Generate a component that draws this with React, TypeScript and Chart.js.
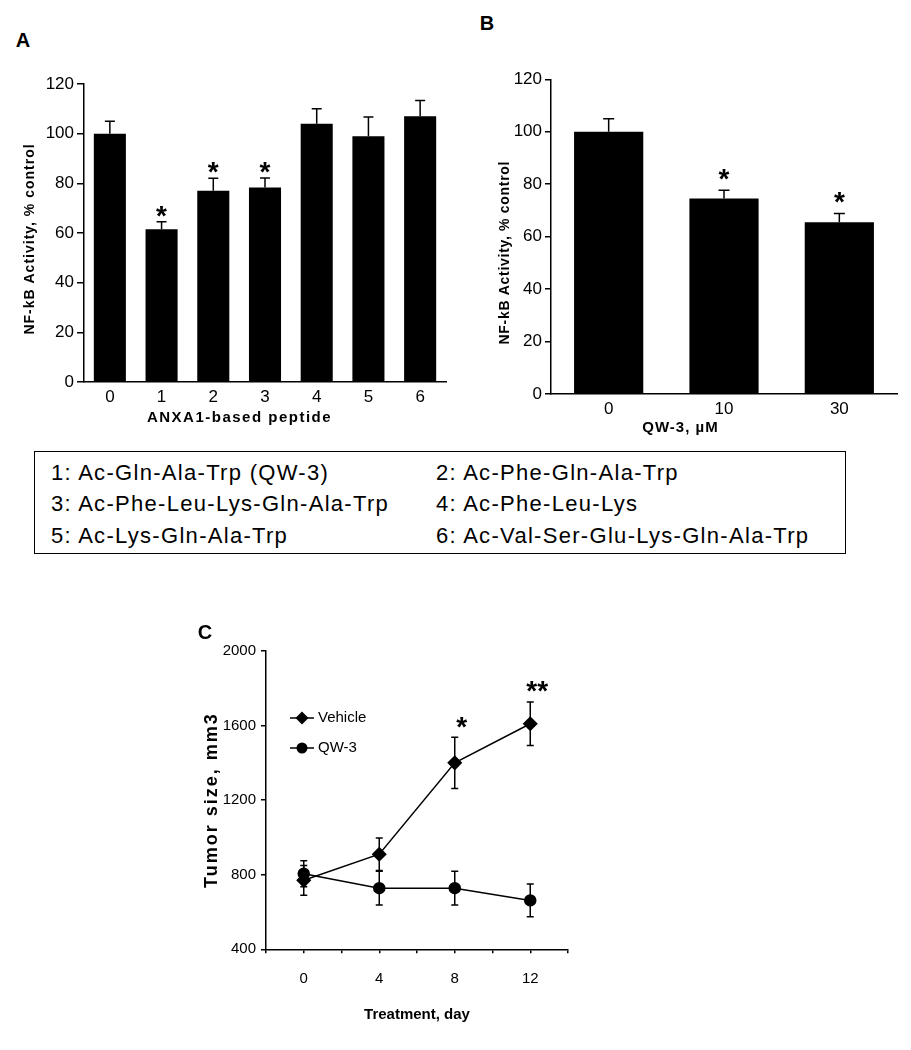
import React, { useEffect, useRef } from 'react';
import { Chart, registerables } from 'chart.js';

Chart.register(...registerables);

const FONT = "'Liberation Sans', Arial, Helvetica, sans-serif";
Chart.defaults.font.family = FONT;
Chart.defaults.color = '#000';

// ---------- Panel A: ANXA1-based peptides ----------
const peptideLabels = ['0', '1', '2', '3', '4', '5', '6'];
const peptideActivity = [100, 61.5, 77, 78.3, 104, 99, 107];
const peptideError = [5, 3, 5, 3.8, 6, 7.7, 6.4];
const peptideStars = ['', '*', '*', '*', '', '', ''];

// ---------- Panel B: QW-3 dose ----------
const doseLabels = ['0', '10', '30'];
const doseActivity = [100, 74.5, 65.5];
const doseError = [5, 3.2, 3.3];
const doseStars = ['', '*', '*'];

// ---------- Panel C: tumor growth ----------
const days = [0, 4, 8, 12];
const vehicleSize = [770, 910, 1400, 1610];
const vehicleError = [80, 87, 138, 117];
const qw3Size = [805, 728, 728, 662];
const qw3Error = [70, 90, 90, 88];
const daySignificance = ['', '', '*', '**'];
const dayTickLabels = [0, 4, 8, 12];

// ---------- peptide key ----------
const peptideKey = [
  '1: Ac-Gln-Ala-Trp (QW-3)',
  '2: Ac-Phe-Gln-Ala-Trp',
  '3: Ac-Phe-Leu-Lys-Gln-Ala-Trp',
  '4: Ac-Phe-Leu-Lys',
  '5: Ac-Lys-Gln-Ala-Trp',
  '6: Ac-Val-Ser-Glu-Lys-Gln-Ala-Trp',
];

function valueOf(d: any): number {
  return typeof d === 'number' ? d : d.y;
}

function fitScale(size: { width?: number; height?: number }, title?: { dx: number; dy: number; spacing: number }) {
  return (scale: any) => {
    if (size.width !== undefined) scale.width = size.width;
    if (size.height !== undefined) scale.height = size.height;
    if (title && !scale.__patched) {
      scale.__patched = true;
      const orig = scale.drawTitle;
      scale.drawTitle = function (...args: any[]) {
        const ctx = this.ctx;
        ctx.save();
        ctx.translate(title.dx, title.dy);
        (ctx as any).letterSpacing = title.spacing + 'px';
        orig.apply(this, args);
        ctx.restore();
      };
    }
  };
}

const errorBarPlugin = {
  id: 'errorBars',
  afterDatasetsDraw(chart: any) {
    const ctx = chart.ctx;
    const ys = chart.scales.y;
    chart.data.datasets.forEach((ds: any, di: number) => {
      if (!ds.errors) return;
      const meta = chart.getDatasetMeta(di);
      ctx.save();
      ctx.strokeStyle = '#000';
      ctx.lineWidth = ds.errorWidth || 1.5;
      meta.data.forEach((el: any, i: number) => {
        const v = valueOf(ds.data[i]);
        const e = ds.errors[i];
        const top = ys.getPixelForValue(v + e);
        const bot = ds.errorBoth ? ys.getPixelForValue(v - e) : ys.getPixelForValue(v);
        const c = ds.errorCap || 5;
        ctx.beginPath();
        ctx.moveTo(el.x, top);
        ctx.lineTo(el.x, bot);
        ctx.moveTo(el.x - c, top);
        ctx.lineTo(el.x + c, top);
        if (ds.errorBoth) {
          ctx.moveTo(el.x - c, bot);
          ctx.lineTo(el.x + c, bot);
        }
        ctx.stroke();
      });
      ctx.restore();
    });
  },
};

const starPlugin = {
  id: 'stars',
  afterDatasetsDraw(chart: any) {
    const ctx = chart.ctx;
    const ys = chart.scales.y;
    chart.data.datasets.forEach((ds: any, di: number) => {
      if (!ds.stars) return;
      const meta = chart.getDatasetMeta(di);
      ctx.save();
      ctx.fillStyle = '#000';
      ctx.font = `bold 28px ${FONT}`;
      ctx.textAlign = 'center';
      ctx.textBaseline = 'alphabetic';
      meta.data.forEach((el: any, i: number) => {
        const s = ds.stars[i];
        if (!s) return;
        const v = valueOf(ds.data[i]);
        const top = ys.getPixelForValue(v + ds.errors[i]);
        ctx.fillText(s, el.x + (ds.starDx || 0), top - ds.starGap);
      });
      ctx.restore();
    });
  },
};

function drawMarker(ctx: CanvasRenderingContext2D, style: string, r: number, x: number, y: number) {
  ctx.beginPath();
  if (style === 'rectRot') {
    ctx.moveTo(x, y - r);
    ctx.lineTo(x + r, y);
    ctx.lineTo(x, y + r);
    ctx.lineTo(x - r, y);
    ctx.closePath();
  } else {
    ctx.arc(x, y, r, 0, Math.PI * 2);
  }
  ctx.fill();
}

const seriesKeyPlugin = {
  id: 'seriesKey',
  afterDraw(chart: any) {
    const { ctx, chartArea } = chart;
    ctx.save();
    chart.data.datasets.forEach((ds: any, i: number) => {
      const y = chartArea.top + 67 + i * 30;
      const x0 = chartArea.left + 24;
      ctx.strokeStyle = '#000';
      ctx.lineWidth = 1.5;
      ctx.beginPath();
      ctx.moveTo(x0, y);
      ctx.lineTo(x0 + 24, y);
      ctx.stroke();
      ctx.fillStyle = '#000';
      drawMarker(ctx, ds.pointStyle, ds.pointRadius, x0 + 12, y);
      ctx.font = `15px ${FONT}`;
      ctx.textAlign = 'left';
      ctx.textBaseline = 'middle';
      ctx.fillText(ds.label, x0 + 28, y);
    });
    ctx.restore();
  },
};

const axisLine = { display: true, color: '#000', width: 1.5 };

function barOptions(cfg: any) {
  return {
    animation: false,
    responsive: false,
    devicePixelRatio: 1,
    layout: { padding: cfg.padding },
    plugins: { legend: { display: false }, tooltip: { enabled: false } },
    scales: {
      x: {
        grid: { display: false, drawTicks: false, tickLength: 0 },
        border: axisLine,
        ticks: { color: '#000', font: { size: 17 }, padding: 5.5 },
        title: {
          display: true,
          text: cfg.xTitle,
          color: '#000',
          font: { size: 15, weight: 'bold' },
          padding: { top: 0, bottom: cfg.xTitlePad },
        },
        afterFit: fitScale({ height: cfg.xHeight }, cfg.xTitleShift),
      },
      y: {
        min: 0,
        max: 120,
        ticks: { stepSize: 20, color: '#000', font: { size: 17 }, padding: cfg.yTickPad },
        grid: { drawOnChartArea: false, drawTicks: true, tickLength: cfg.yTickLen, color: '#000', lineWidth: 1.5 },
        border: axisLine,
        title: {
          display: true,
          text: 'NF-kB Activity, % control',
          color: '#000',
          font: { size: 14, weight: 'bold' },
          padding: { top: cfg.yTitlePad, bottom: 0 },
        },
        afterFit: fitScale({ width: cfg.yWidth }, cfg.yTitleShift),
      },
    },
  };
}

function useChart(ref: React.RefObject<HTMLCanvasElement>, make: (c: HTMLCanvasElement) => Chart) {
  useEffect(() => {
    if (!ref.current) return;
    const chart = make(ref.current);
    return () => chart.destroy();
  }, []);
}

export default function App() {
  const refA = useRef<HTMLCanvasElement>(null);
  const refB = useRef<HTMLCanvasElement>(null);
  const refC = useRef<HTMLCanvasElement>(null);

  useChart(refA, (c) =>
    new Chart(c, {
      type: 'bar',
      data: {
        labels: peptideLabels,
        datasets: [
          {
            data: peptideActivity,
            backgroundColor: '#000',
            borderWidth: 0,
            barPercentage: 0.62,
            categoryPercentage: 1,
            errors: peptideError,
            errorCap: 5,
            errorWidth: 1.5,
            stars: peptideStars,
            starGap: -3,
          } as any,
        ],
      },
      options: barOptions({
        padding: { top: 24, right: 14, left: 0, bottom: 0 },
        xTitle: 'ANXA1-based peptide',
        xTitlePad: 13,
        xHeight: 58,
        xTitleShift: { dx: -25.5, dy: 0, spacing: 1.5 },
        yTickPad: 3,
        yTickLen: 7,
        yTitlePad: 21.6,
        yWidth: 84,
        yTitleShift: { dx: 0, dy: 6, spacing: 1 },
      }) as any,
      plugins: [errorBarPlugin, starPlugin],
    })
  );

  useChart(refB, (c) =>
    new Chart(c, {
      type: 'bar',
      data: {
        labels: doseLabels,
        datasets: [
          {
            data: doseActivity,
            backgroundColor: '#000',
            borderWidth: 0,
            barPercentage: 0.6,
            categoryPercentage: 1,
            errors: doseError,
            errorCap: 5.5,
            errorWidth: 1.5,
            stars: doseStars,
            starGap: 2.4,
          } as any,
        ],
      },
      options: barOptions({
        padding: { top: 29.3, right: 14, left: 0, bottom: 0 },
        xTitle: 'QW-3, µM',
        xTitlePad: 3,
        xHeight: 46,
        xTitleShift: { dx: -43.5, dy: 0, spacing: 1 },
        yTickPad: 3,
        yTickLen: 6,
        yTitlePad: 26.6,
        yWidth: 81,
        yTitleShift: { dx: 0, dy: 16, spacing: 0.7 },
      }) as any,
      plugins: [errorBarPlugin, starPlugin],
    })
  );

  useChart(refC, (c) =>
    new Chart(c, {
      type: 'line',
      data: {
        datasets: [
          {
            label: 'Vehicle',
            data: days.map((d, i) => ({ x: d, y: vehicleSize[i] })),
            borderColor: '#000',
            borderWidth: 1.5,
            backgroundColor: '#000',
            pointBackgroundColor: '#000',
            pointBorderColor: '#000',
            pointStyle: 'rectRot',
            pointRadius: 6.5,
            tension: 0,
            errors: vehicleError,
            errorBoth: true,
            errorCap: 3.5,
            errorWidth: 1.5,
            stars: daySignificance,
            starGap: 1.5,
            starDx: 7,
          } as any,
          {
            label: 'QW-3',
            data: days.map((d, i) => ({ x: d, y: qw3Size[i] })),
            borderColor: '#000',
            borderWidth: 1.5,
            backgroundColor: '#000',
            pointBackgroundColor: '#000',
            pointBorderColor: '#000',
            pointStyle: 'circle',
            pointRadius: 5.5,
            tension: 0,
            errors: qw3Error,
            errorBoth: true,
            errorCap: 3.5,
            errorWidth: 1.5,
          } as any,
        ],
      },
      options: {
        animation: false,
        responsive: false,
        devicePixelRatio: 1,
        layout: { padding: { top: 51, right: 32, left: 0, bottom: 0 } },
        plugins: { legend: { display: false }, tooltip: { enabled: false } },
        scales: {
          x: {
            type: 'linear',
            min: -2,
            max: 14,
            ticks: {
              stepSize: 2,
              autoSkip: false,
              color: '#000',
              font: { size: 15 },
              padding: 17,
              callback: (v: any) => (dayTickLabels.includes(v) ? String(v) : ''),
            },
            grid: { drawOnChartArea: false, drawTicks: true, tickLength: 4, color: '#000', lineWidth: 1.5 },
            border: axisLine,
            title: {
              display: true,
              text: 'Treatment, day',
              color: '#000',
              font: { size: 15, weight: 'bold' },
              padding: { top: 0, bottom: 16 },
            },
            afterFit: fitScale({ height: 90.7 }),
          },
          y: {
            min: 400,
            max: 2000,
            ticks: {
              stepSize: 400,
              color: '#000',
              font: { size: 15 },
              padding: 5,
              callback: (v: any) => String(v),
            },
            grid: { drawOnChartArea: false, drawTicks: true, tickLength: 5, color: '#000', lineWidth: 1.5 },
            border: axisLine,
            title: {
              display: true,
              text: 'Tumor size, mm3',
              color: '#000',
              font: { size: 18, weight: 'bold' },
              padding: { top: 20.9, bottom: 0 },
            },
            afterFit: fitScale({ width: 86 }, { dx: 0, dy: 0, spacing: 2 }),
          },
        },
      } as any,
      plugins: [errorBarPlugin, starPlugin, seriesKeyPlugin],
    })
  );

  const panelLabel = (text: string, cx: number, cy: number) => (
    <div
      style={{
        position: 'absolute',
        left: cx - 15,
        top: cy - 9.8,
        width: 30,
        textAlign: 'center',
        fontFamily: FONT,
        fontWeight: 'bold',
        fontSize: 20,
        lineHeight: '20px',
        color: '#000',
      }}
    >
      {text}
    </div>
  );

  return (
    <div style={{ position: 'absolute', left: 0, top: 0, width: 911, height: 1050, background: '#fff', overflow: 'hidden' }}>
      <canvas ref={refA} width={460} height={380} style={{ position: 'absolute', left: 0, top: 60, width: 460, height: 380 }} />
      <canvas ref={refB} width={441} height={390} style={{ position: 'absolute', left: 470, top: 50, width: 441, height: 390 }} />
      <canvas ref={refC} width={420} height={440} style={{ position: 'absolute', left: 180, top: 600, width: 420, height: 440 }} />
      {panelLabel('A', 23, 40)}
      {panelLabel('B', 487, 23)}
      {panelLabel('C', 205, 632)}
      <div
        style={{
          position: 'absolute',
          left: 34,
          top: 451,
          width: 812,
          height: 103,
          boxSizing: 'border-box',
          border: '1.5px solid #000',
          paddingTop: 5.5,
          paddingLeft: 16,
          fontFamily: FONT,
          fontSize: 22,
          letterSpacing: 1.3,
          lineHeight: '30px',
          color: '#000',
          display: 'grid',
          gridTemplateColumns: '385px 1fr',
        }}
      >
        {peptideKey.map((t) => (
          <div key={t} style={{ whiteSpace: 'nowrap' }}>
            {t}
          </div>
        ))}
      </div>
    </div>
  );
}
